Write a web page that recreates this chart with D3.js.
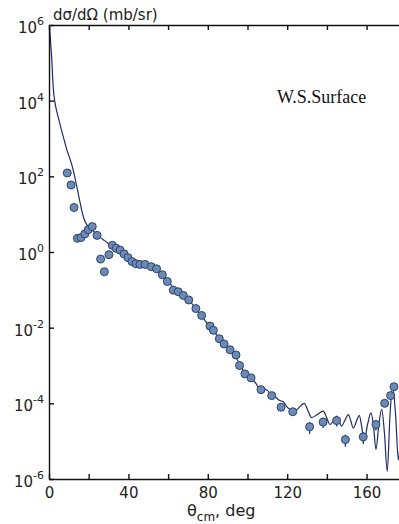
<!DOCTYPE html>
<html>
<head>
<meta charset="utf-8">
<script src="https://cdn.jsdelivr.net/npm/d3@7"></script>
<style>
  html, body { margin: 0; padding: 0; background: #fff; }
  svg { display: block; }
  .axis path, .axis line { stroke: #111; stroke-width: 1.4; }
</style>
</head>
<body>
<svg id="chart" width="399" height="524"></svg>
<script>
// Measured cross sections: scattering angle (deg, c.m.) and dσ/dΩ (mb/sr)
const expAngle = [9.2, 11.1, 12.6, 14.3, 16.1, 18.0, 19.8, 21.8, 24.2, 26.0, 27.9,
  30.2, 31.9, 33.8, 35.8, 37.8, 39.8, 41.8, 43.8, 45.8, 48.4, 51.5, 54.2, 57.1, 59.6,
  62.6, 65.1, 67.7, 70.4, 74.0, 76.9, 81.1, 82.8, 85.8, 88.2, 91.2, 94.2, 96.0, 98.7,
  101.8, 106.8, 112.2, 116.9, 122.8, 131.3, 138.1, 144.9, 149.3, 158.3, 164.7, 169.1,
  172.1, 173.8];
const expSigma = [123, 59, 15, 2.3, 2.4, 3.0, 3.9, 4.7, 2.75, 0.65, 0.30,
  0.85, 1.5, 1.26, 1.12, 0.89, 0.71, 0.56, 0.49, 0.47, 0.47, 0.41, 0.36, 0.25, 0.166,
  0.098, 0.089, 0.071, 0.054, 0.032, 0.021, 0.011, 0.0085, 0.0051, 0.0037, 0.0026, 0.0019, 0.0010, 6.0e-4,
  4.7e-4, 2.3e-4, 1.6e-4, 7.9e-5, 6.0e-5, 2.4e-5, 3.2e-5, 3.5e-5, 1.1e-5, 1.3e-5, 2.75e-5, 1.0e-4,
  1.6e-4, 2.75e-4];
// Relative uncertainties (only the backward-angle points carry visible bars)
const expError = [0, 0, 0, 0, 0, 0, 0, 0, 0, 0, 0,
  0, 0, 0, 0, 0, 0, 0, 0, 0, 0, 0, 0, 0, 0,
  0, 0, 0, 0, 0, 0, 0, 0, 0, 0, 0, 0, 0, 0,
  0, 0, 0, 0, 0, 0.35, 0.3, 0.3, 0.35, 0.35, 0.3, 0,
  0, 0];

// Calculation with the Woods-Saxon surface potential
const calcAngle = [0.3, 0.6, 1.0, 1.4, 1.8, 2.2, 3.0, 4.0, 5.2, 6.4, 7.7, 9.0, 10.3, 11.5,
  12.5, 13.5, 14.5, 15.5, 16.5, 17.5, 18.5, 20, 22, 24, 26, 28, 30, 32, 34, 36, 38, 40,
  42, 44, 46, 48, 50, 52, 54, 56, 58, 60, 62, 64, 66, 68, 70, 72, 74, 76, 78, 80, 82,
  84, 86, 88, 90, 92, 94, 96, 98, 100, 102, 104, 106, 108, 110, 112, 114, 116, 118, 120,
  122, 124, 126.5, 128.6, 130.5, 132.3, 135, 138.2, 140, 141.6, 143.3, 144.9, 146, 147.4,
  149, 150.8, 152, 153.3, 155, 156.3, 157.5, 158.7, 160.5, 162.2, 163.5, 164.7, 166.2,
  167.6, 169, 170.4, 171.8, 173.1, 174.6, 176, 177.5, 179];
const calcSigma = [8.9e5, 5.0e5, 2.5e5, 1.26e5, 4.5e4, 2.0e4, 8.9e3, 5.0e3, 2.8e3, 1.6e3, 890, 500, 316, 200,
  126, 71, 40, 22, 12.6, 7.9, 5.9, 4.5, 3.7, 2.95, 2.4, 2.0, 1.66, 1.38, 1.15, 0.95, 0.83, 0.72,
  0.62, 0.54, 0.48, 0.44, 0.40, 0.36, 0.32, 0.28, 0.23, 0.174, 0.126, 0.100, 0.083, 0.068, 0.055, 0.043, 0.032, 0.023, 0.017, 0.0126, 0.0095,
  0.0069, 0.0051, 0.0039, 0.0030, 0.0023, 0.0017, 0.0011, 7.1e-4, 5.4e-4, 4.4e-4, 3.5e-4, 2.5e-4, 2.4e-4, 2.2e-4, 1.66e-4, 1.5e-4, 1.2e-4, 1.1e-4, 7.9e-5,
  6.6e-5, 6.3e-5, 8.3e-5, 1.0e-4, 6.3e-5, 4.2e-5, 5.0e-5, 6.2e-5, 4.0e-5, 2.75e-5, 3.5e-5, 4.6e-5, 3.5e-5, 2.5e-5,
  3.5e-5, 5.0e-5, 3.5e-5, 2.2e-5, 3.5e-5, 4.8e-5, 2.5e-5, 1.0e-5, 2.8e-5, 5.6e-5, 2.5e-5, 6.0e-6, 2.8e-5,
  6.9e-5, 1.6e-5, 1.6e-6, 5.0e-5, 2.8e-4, 5.0e-5, 3.2e-6, 3.2e-5, 1.6e-4];

const xTicks = [0, 20, 40, 60, 80, 100, 120, 140, 160, 180];
const xLabelTicks = [0, 40, 80, 120, 160];
const yExponents = [6, 4, 2, 0, -2, -4, -6];

const svg = d3.select("#chart");
const plotLeft = 49, plotTop = 25, plotBottom = 479;
const degPx = 1.985;

const x = d3.scaleLinear().domain([0, 180]).range([plotLeft, plotLeft + 180 * degPx]);
const y = d3.scaleLog().domain([1e-6, 1e6]).range([plotBottom, plotTop]);

const font = "'DejaVu Sans', sans-serif";

// clip region for plotted marks
svg.append("clipPath").attr("id", "plotClip")
  .append("rect").attr("x", plotLeft).attr("y", plotTop)
  .attr("width", 180 * degPx).attr("height", plotBottom - plotTop);

// theoretical curve
const line = d3.line()
  .x((d, i) => x(calcAngle[i]))
  .y(d => y(d))
  .curve(d3.curveMonotoneX);
svg.append("path")
  .attr("clip-path", "url(#plotClip)")
  .attr("d", line(calcSigma))
  .attr("fill", "none")
  .attr("stroke", "#1f2b66")
  .attr("stroke-width", 1.2);

// error bars
const pts = svg.append("g").attr("clip-path", "url(#plotClip)");
expSigma.forEach((s, i) => {
  if (expError[i] > 0) {
    pts.append("line")
      .attr("x1", x(expAngle[i])).attr("x2", x(expAngle[i]))
      .attr("y1", y(s * (1 + expError[i]))).attr("y2", y(s * (1 - expError[i])))
      .attr("stroke", "#2a3e66").attr("stroke-width", 1.4);
  }
});
// data points
pts.selectAll("circle").data(expSigma).join("circle")
  .attr("cx", (d, i) => x(expAngle[i]))
  .attr("cy", d => y(d))
  .attr("r", 4)
  .attr("fill", "#6b8bb5")
  .attr("stroke", "#2c4270")
  .attr("stroke-width", 1);

// axes
const xBottom = d3.axisBottom(x).tickValues(xTicks).tickSizeInner(-5).tickSizeOuter(0)
  .tickPadding(8).tickFormat(d => xLabelTicks.includes(d) ? d : "");
const gb = svg.append("g").attr("class", "axis").attr("transform", `translate(0,${plotBottom})`).call(xBottom);
gb.selectAll("text").attr("font-family", font).attr("font-size", 15).attr("fill", "#222");

const xTop = d3.axisTop(x).tickValues(xTicks).tickSizeInner(-5).tickSizeOuter(0).tickFormat("");
svg.append("g").attr("class", "axis").attr("transform", `translate(0,${plotTop})`).call(xTop);

const yLeft = d3.axisLeft(y).tickValues(yExponents.map(e => Math.pow(10, e)))
  .tickSizeInner(-5).tickSizeOuter(0).tickFormat("");
svg.append("g").attr("class", "axis").attr("transform", `translate(${plotLeft},0)`).call(yLeft);

// decade labels written as 10 with a raised exponent
yExponents.forEach(e => {
  const t = svg.append("text")
    .attr("x", 44).attr("y", y(Math.pow(10, e)) + 8)
    .attr("text-anchor", "end")
    .attr("font-family", font).attr("font-size", 15).attr("fill", "#222");
  t.append("tspan").text("10");
  t.append("tspan").attr("dy", -8).attr("font-size", 11).text(String(e));
});

// axis titles
svg.append("text").attr("x", 53).attr("y", 20)
  .attr("font-family", font).attr("font-size", 15).attr("fill", "#222")
  .text("dσ/dΩ (mb/sr)");

const xt = svg.append("text").attr("x", 187).attr("y", 516)
  .attr("font-family", font).attr("font-size", 16).attr("fill", "#222");
xt.append("tspan").text("θ");
xt.append("tspan").attr("dy", 5).attr("font-size", 12).text("cm");
xt.append("tspan").attr("dy", -5).text(", deg");

svg.append("text").attr("x", 277).attr("y", 103)
  .attr("font-family", "'Liberation Serif', 'Times New Roman', serif")
  .attr("font-size", 18).attr("fill", "#111")
  .text("W.S.Surface");
</script>
</body>
</html>
